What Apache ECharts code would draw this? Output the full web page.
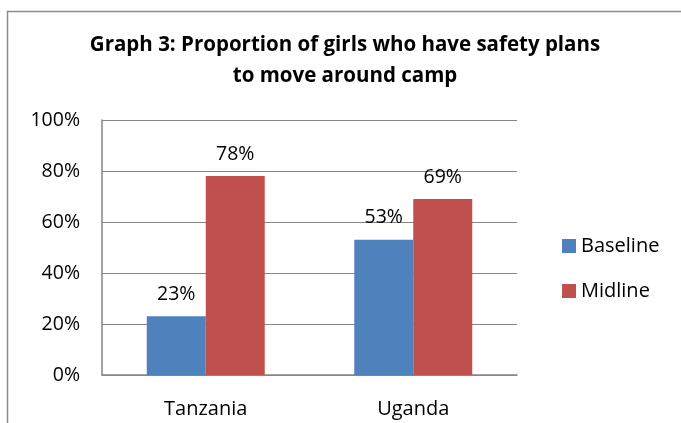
<!DOCTYPE html>
<html>
<head>
  <meta charset="utf-8">
  <title>Graph 3</title>
  <script src="https://cdn.jsdelivr.net/npm/echarts@6/dist/echarts.min.js"></script>
  <style>
    html, body { margin: 0; padding: 0; background: #fff; }
    #chart { width: 681px; height: 423px; }
  </style>
</head>
<body>
<div id="chart"></div>
<script>
  // data
  var categories = ['Tanzania', 'Uganda'];
  var baseline = [23, 53];
  var midline = [78, 69];
  var seriesNames = ['Baseline', 'Midline'];

  var font = '"Open Sans", Lato, sans-serif';
  var chart = echarts.init(document.getElementById('chart'));

  chart.setOption({
    backgroundColor: '#fff',
    animation: false,
    textStyle: { fontFamily: font },
    title: {
      text: 'Graph 3: Proportion of girls who have safety plans\nto move around camp',
      left: 340,
      textAlign: 'center',
      top: 25,
      textStyle: { fontSize: 20.5, fontWeight: 'bold', color: '#000', lineHeight: 31, fontFamily: font }
    },
    legend: {
      orient: 'vertical',
      left: 557,
      top: 231,
      itemWidth: 14,
      itemHeight: 14,
      itemGap: 25,
      icon: 'rect',
      textStyle: { fontSize: 20, color: '#000', fontFamily: font },
      data: seriesNames
    },
    grid: { left: 102, top: 120, width: 415, height: 255, containLabel: false },
    xAxis: {
      type: 'category',
      data: categories,
      axisLine: { lineStyle: { color: '#868686', width: 1.5 } },
      axisTick: { show: false },
      axisLabel: { fontSize: 20, color: '#000', margin: 24, fontFamily: font }
    },
    yAxis: {
      type: 'value',
      min: 0,
      max: 100,
      interval: 20,
      axisLine: { show: true, lineStyle: { color: '#868686', width: 1.5 } },
      axisTick: { show: false },
      splitLine: { lineStyle: { color: '#868686', width: 1 } },
      axisLabel: { fontSize: 19.5, color: '#000', margin: 22, formatter: '{value}%', fontFamily: font }
    },
    series: [
      {
        name: seriesNames[0],
        type: 'bar',
        data: baseline,
        barWidth: 59,
        barGap: '0%',
        itemStyle: { color: '#4F81BD' },
        label: { show: true, position: 'top', distance: 12, formatter: '{c}%', fontSize: 19.5, color: '#000', fontFamily: font }
      },
      {
        name: seriesNames[1],
        type: 'bar',
        data: midline,
        barWidth: 59,
        barGap: '0%',
        itemStyle: { color: '#C0504D' },
        label: { show: true, position: 'top', distance: 12, formatter: '{c}%', fontSize: 19.5, color: '#000', fontFamily: font }
      }
    ],
    graphic: [{
      type: 'rect',
      shape: { x: 7.5, y: 11.5, width: 700, height: 450 },
      style: { fill: 'none', stroke: '#8c8c8c', lineWidth: 1.5 },
      silent: true
    }]
  });
</script>
</body>
</html>
